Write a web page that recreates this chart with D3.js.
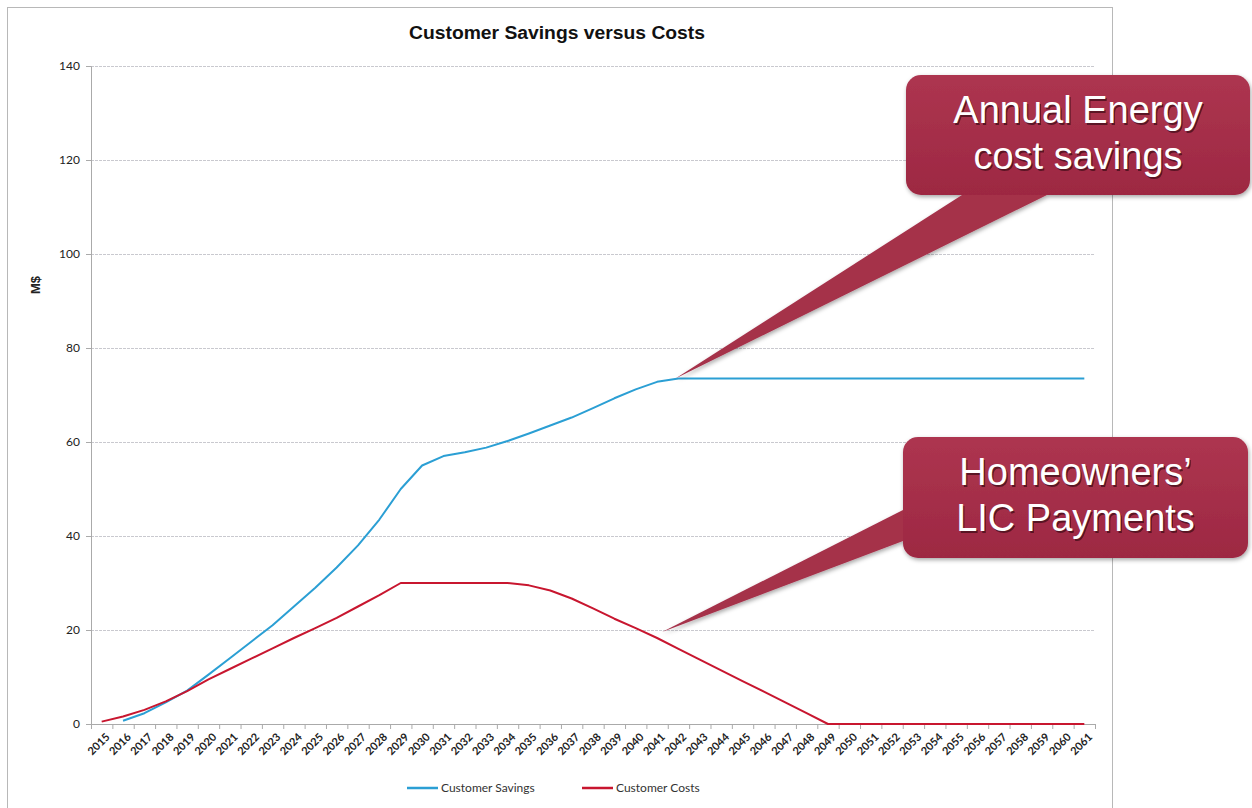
<!DOCTYPE html>
<html>
<head>
<meta charset="utf-8">
<style>
  body { margin: 0; background: #fff; }
  svg { display: block; }
</style>
</head>
<body>
<script src="https://d3js.org/d3.v7.min.js"></script>
<svg width="1252" height="808"></svg>
<script>
// chart values
var years = d3.range(2015, 2062).map(String);
var savings = [null, 0.7, 2.3, 4.6, 7.1, 10.5, 14, 17.5, 21, 25, 29, 33.3, 38, 43.5, 50,
  55, 57, 57.8, 58.8, 60.2, 61.8, 63.5, 65.2, 67.2, 69.3, 71.2, 72.8,
  73.5, 73.5, 73.5, 73.5, 73.5, 73.5, 73.5, 73.5, 73.5, 73.5, 73.5, 73.5, 73.5, 73.5, 73.5, 73.5, 73.5, 73.5, 73.5, 73.5];
var costs = [0.5, 1.6, 3.0, 4.8, 7, 9.5, 11.7, 13.9, 16.1, 18.3, 20.4, 22.6, 25, 27.4, 30,
  30, 30, 30, 30, 30, 29.5, 28.4, 26.7, 24.6, 22.4, 20.4, 18.3, 16, 13.7, 11.4, 9.1, 6.9, 4.6, 2.3,
  0, 0, 0, 0, 0, 0, 0, 0, 0, 0, 0, 0, 0];
var yTicks = [0, 20, 40, 60, 80, 100, 120, 140];
var seriesNames = ["Customer Savings", "Customer Costs"];
var seriesColors = ["#2b9fd4", "#c8162f"];

// callout annotations: tip anchored on data, box in pixels
var callouts = [
  { lines: ["Annual Energy", "cost savings"], tipYear: "2042", tipValue: 73.5, tipDx: -3,
    box: [906, 75, 344, 120], base: [[1047, 195], [962, 195]] },
  { lines: ["Homeowners\u2019", "LIC Payments"], tipYear: "2041", tipValue: 19.6, tipDx: 5,
    box: [903, 437, 345, 121], base: [[903, 510], [903, 541]] }
];

var svg = d3.select("svg");
var plotL = 91, plotR = 1095, plotT = 66, plotB = 724;

var x = d3.scaleBand().domain(years).range([plotL, plotR]);
var xi = d3.scaleLinear().domain([0, years.length]).range([plotL, plotR]);
var y = d3.scaleLinear().domain([0, 140]).range([plotB, plotT]);
var cx = d => x(d) + x.bandwidth() / 2;

// outer chart frame
svg.append("rect").attr("x", 7.5).attr("y", 7.5).attr("width", 1105).attr("height", 820)
  .attr("fill", "#fff").attr("stroke", "#b8b8b8").attr("stroke-width", 1);

// title
svg.append("text").attr("x", 557).attr("y", 39).attr("text-anchor", "middle")
  .style("font", "bold 18px 'Liberation Sans', Arial, sans-serif").attr("fill", "#111")
  .attr("textLength", 296).attr("lengthAdjust", "spacingAndGlyphs")
  .text("Customer Savings versus Costs");

// gridlines
var grid = svg.append("g").attr("transform", "translate(" + plotL + ",0)")
  .call(d3.axisLeft(y).tickValues(yTicks).tickSize(-(plotR - plotL)).tickFormat(""));
grid.select(".domain").remove();
grid.selectAll("line").attr("stroke", "#c9c9cf").attr("stroke-dasharray", "3,1");

// y axis
var yAxis = svg.append("g").attr("transform", "translate(" + plotL + ",0)")
  .call(d3.axisLeft(y).tickValues(yTicks).tickSize(5).tickPadding(6));
yAxis.select(".domain").attr("stroke", "#aaa");
yAxis.selectAll("line").attr("stroke", "#aaa");
yAxis.selectAll("text").style("font", "12px Lato, sans-serif").attr("fill", "#222");

svg.append("text").attr("transform", "translate(40,285) rotate(-90)")
  .attr("text-anchor", "middle").style("font", "bold 13px 'Liberation Sans', Arial, sans-serif")
  .attr("fill", "#222").text("M$");

// x axis: boundary ticks and rotated labels
var xTicks = svg.append("g").attr("transform", "translate(0," + plotB + ")")
  .call(d3.axisBottom(xi).tickValues(d3.range(0, years.length + 1)).tickSize(5).tickFormat(""));
xTicks.select(".domain").attr("stroke", "#aaa");
xTicks.selectAll("line").attr("stroke", "#aaa");

var xAxis = svg.append("g").attr("transform", "translate(0," + plotB + ")")
  .call(d3.axisBottom(x).tickSize(0).tickPadding(0));
xAxis.select(".domain").remove();
xAxis.selectAll("text")
  .style("font", "bold 11px Lato, sans-serif").attr("fill", "#222")
  .attr("text-anchor", "end").attr("dy", "0.35em")
  .attr("transform", "translate(6,11) rotate(-45)");

// lines
var line = d3.line().defined(d => d.v != null).x(d => cx(d.year)).y(d => y(d.v));
[savings, costs].forEach(function (vals, k) {
  svg.append("path")
    .datum(years.map((yr, i) => ({ year: yr, v: vals[i] })))
    .attr("fill", "none").attr("stroke", seriesColors[k]).attr("stroke-width", 2)
    .attr("stroke-linejoin", "round").attr("d", line);
});

// legend
var legend = svg.append("g").attr("transform", "translate(407,788)");
var legendX = [0, 175];
seriesNames.forEach(function (name, k) {
  var g = legend.append("g").attr("transform", "translate(" + legendX[k] + ",0)");
  g.append("line").attr("x1", 0).attr("x2", 31).attr("stroke", seriesColors[k]).attr("stroke-width", 2.5);
  g.append("text").attr("x", 34).attr("dy", "0.35em").style("font", "12px Lato, sans-serif")
    .attr("fill", "#333").text(name);
});

// callouts
var defs = svg.append("defs");
var grad = defs.append("linearGradient").attr("id", "cg").attr("x1", 0).attr("y1", 0).attr("x2", 0).attr("y2", 1);
grad.append("stop").attr("offset", "0%").attr("stop-color", "#ad3550");
grad.append("stop").attr("offset", "100%").attr("stop-color", "#9d2842");
var sh = defs.append("filter").attr("id", "sh").attr("x", "-10%").attr("y", "-10%").attr("width", "120%").attr("height", "130%");
sh.append("feDropShadow").attr("dx", 1).attr("dy", 2).attr("stdDeviation", 2).attr("flood-color", "#000").attr("flood-opacity", 0.35);

callouts.forEach(function (c) {
  var g = svg.append("g").attr("filter", "url(#sh)");
  var tx = cx(c.tipYear) + c.tipDx, ty = y(c.tipValue);
  var b = c.box;
  g.append("path").attr("fill", "#a5304a")
    .attr("d", "M" + tx + "," + ty + "L" + c.base[0] + "L" + c.base[1] + "Z");
  g.append("rect").attr("x", b[0]).attr("y", b[1]).attr("width", b[2]).attr("height", b[3])
    .attr("rx", 15).attr("fill", "url(#cg)");
  var midX = b[0] + b[2] / 2;
  c.lines.forEach(function (t, i) {
    var ly = b[1] + 48 + i * 46;
    svg.append("text").attr("x", midX + 1.5).attr("y", ly + 2).attr("text-anchor", "middle")
      .style("font", "38px 'Liberation Sans', Arial, sans-serif").attr("fill", "#3b0b16").attr("opacity", 0.7).text(t);
    svg.append("text").attr("x", midX).attr("y", ly).attr("text-anchor", "middle")
      .style("font", "38px 'Liberation Sans', Arial, sans-serif").attr("fill", "#fff").text(t);
  });
});
</script>
</body>
</html>
